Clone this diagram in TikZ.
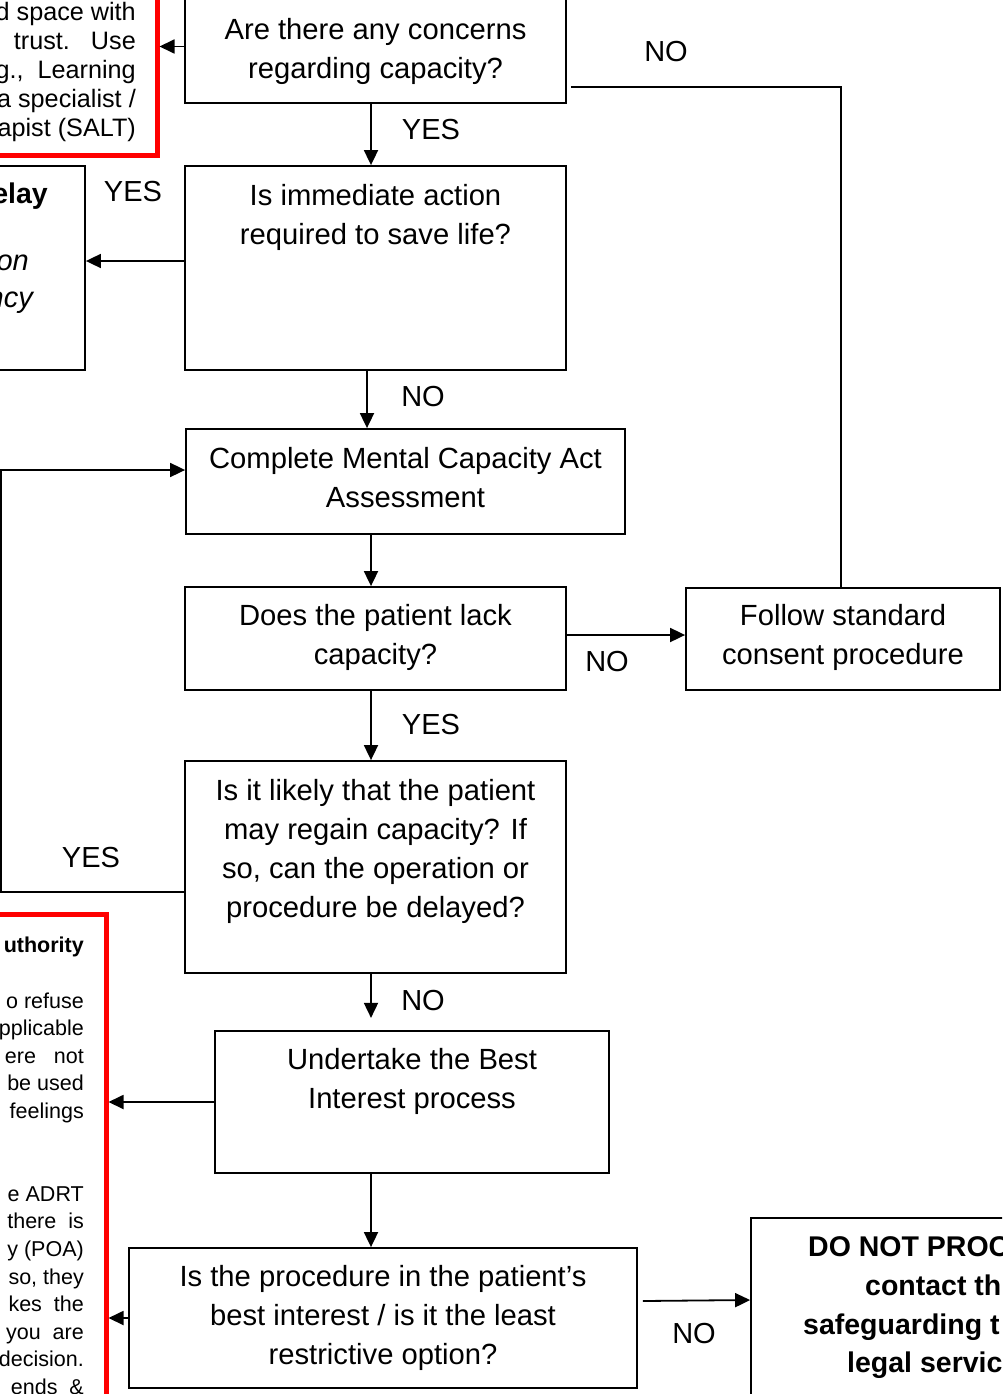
\documentclass[tikz,border=0pt]{standalone}
\usepackage{fontspec}
\setmainfont{Liberation Sans}
\usetikzlibrary{arrows.meta,calc}
\tikzset{
  box/.style={draw=black, line width=1.8pt, rectangle, inner sep=0pt},
  redbox/.style={draw=red, line width=5pt, rectangle, inner sep=0pt},
  txt/.style={align=center, inner sep=0pt, font=\fontsize{29.2}{39}\selectfont},
  lbl/.style={inner sep=0pt, font=\fontsize{29}{39}\selectfont},
  smalla/.style={align=right, inner sep=0pt, font=\fontsize{25.2}{28.8}\selectfont},
  smallb/.style={align=right, inner sep=0pt, font=\fontsize{21.5}{27.6}\selectfont},
  boldt/.style={inner sep=0pt, font=\bfseries\fontsize{28.5}{39}\selectfont},
  itt/.style={inner sep=0pt, font=\itshape\fontsize{29}{38}\selectfont},
  arr/.style={line width=1.8pt, -{Triangle[length=15pt,width=14pt]}},
  ln/.style={line width=1.8pt}
}
\begin{document}
\begin{tikzpicture}[x=1pt,y=-1pt]
\useasboundingbox (0,0) rectangle (1002,1394);
\clip (0,0) rectangle (1002,1394);
% boxes
\node[redbox, minimum width=177pt, minimum height=175pt] (rtl) at (68.5,67.5) {};
\node[redbox, minimum width=126pt, minimum height=536pt] (rbl) at (43,1182) {};
\node[box, minimum width=381pt, minimum height=113pt] (b1) at (375.5,46.5) {};
\node[box, minimum width=381pt, minimum height=204pt] (b2) at (375.5,268) {};
\node[box, minimum width=105pt, minimum height=204pt] (lb) at (32.5,268) {};
\node[box, minimum width=439pt, minimum height=105pt] (b3) at (405.5,481.5) {};
\node[box, minimum width=381pt, minimum height=103pt] (b4) at (375.5,638.5) {};
\node[box, minimum width=314pt, minimum height=102pt] (fo) at (843,639) {};
\node[box, minimum width=381pt, minimum height=212pt] (b5) at (375.5,867) {};
\node[box, minimum width=394pt, minimum height=142pt] (b6) at (412,1102) {};
\node[box, minimum width=508pt, minimum height=140pt] (b7) at (383,1318) {};
\node[box, minimum width=349pt, minimum height=232pt] (dn) at (925.5,1334) {};
% texts
\node[txt] (b1t) at (375.5,51) {Are there any concerns\\regarding capacity?};
\node[txt] (b2t) at (375.5,217.5) {Is immediate action\\required to save life?};
\node[txt] (b3t) at (405.5,477.5) {Complete Mental Capacity Act\\Assessment};
\node[txt] (b4t) at (375.5,637) {Does the patient lack\\capacity?};
\node[txt] (fot) at (843,637.5) {Follow standard\\consent procedure};
\node[txt] (b5t) at (375.5,851) {Is it likely that the patient\\may regain capacity? If\\so, can the operation or\\procedure be delayed?};
\node[txt] (b6t) at (412,1081.5) {Undertake the Best\\Interest process};
\node[txt] (b7t) at (383,1318) {Is the procedure in the patient’s\\best interest / is it the least\\restrictive option?};
\node[smalla, anchor=east] (rtlt) at (136,72) {d space with\\trust.~~~Use\\g.,~~Learning\\a specialist /\\apist (SALT)};
\node[smallb, anchor=east] (rblt) at (84,1166) {\textbf{uthority}\\\mbox{}\\o refuse\\pplicable\\ere~~~not\\be used\\feelings\\\mbox{}\\\mbox{}\\e ADRT\\there~~is\\y (POA)\\so, they\\kes~~the\\you~~are\\decision.\\ends~~\&};
\node[boldt, anchor=base east] (lbt1) at (48,203) {elay};
\node[itt, anchor=base east] (lbt2) at (29,270) {on};
\node[itt, anchor=base east] (lbt3) at (33,307) {ncy};
\node[boldt, anchor=base west] (dn1) at (808,1256) {DO NOT PROC};
\node[boldt, anchor=base west] (dn2) at (865,1295) {contact th};
\node[boldt, anchor=base west] (dn3) at (803,1334) {safeguarding t};
\node[boldt, anchor=base west] (dn4) at (847,1372) {legal servic};
% labels
\node[lbl] (l1) at (666,52) {NO};
\node[lbl] (l2) at (431,130) {YES};
\node[lbl] (l3) at (133,192) {YES};
\node[lbl] (l4) at (423,397) {NO};
\node[lbl] (l5) at (607,662) {NO};
\node[lbl] (l6) at (431,725) {YES};
\node[lbl] (l7) at (91,858) {YES};
\node[lbl] (l8) at (423,1001) {NO};
\node[lbl] (l9) at (694,1333) {NO};
% connectors
\draw[arr] (b1.west) -- (b1.west -| rtl.east);
\draw[arr] ([xshift=-4.5pt]b1.south) -- ([xshift=-4.5pt]b2.north);
\draw[arr] ([yshift=7pt]b2.west) -- ([yshift=7pt]lb.east);
\draw[arr] ([xshift=-8.5pt]b2.south) -- ([xshift=-38.5pt]b3.north);
\draw[arr] ([xshift=-34.5pt]b3.south) -- ([xshift=-4.5pt]b4.north);
\draw[arr] ([yshift=3.5pt]b4.east) -- ([yshift=4pt]fo.west);
\draw[ln] ([xshift=4pt,yshift=-40.5pt]b1.east) -| ([xshift=-2pt]fo.north);
\draw[arr] ([xshift=-4.5pt]b4.south) -- ([xshift=-4.5pt]b5.north);
\draw[arr] ([yshift=-25pt]b5.west) -- ++(-183,0) |- ([yshift=11.5pt]b3.west);
\draw[arr] ([xshift=-4.5pt]b5.south) -- ++(0,44);
\draw[arr] (b6.west) -- (b6.west -| rbl.east);
\draw[arr] ([xshift=-41pt]b6.south) -- ([xshift=-12pt]b7.north);
\draw[arr] (b7.west) -- (b7.west -| rbl.east);
\draw[arr] ([xshift=5pt,yshift=17pt]b7.east) -- ([yshift=34pt]dn.west);
\end{tikzpicture}
\end{document}
